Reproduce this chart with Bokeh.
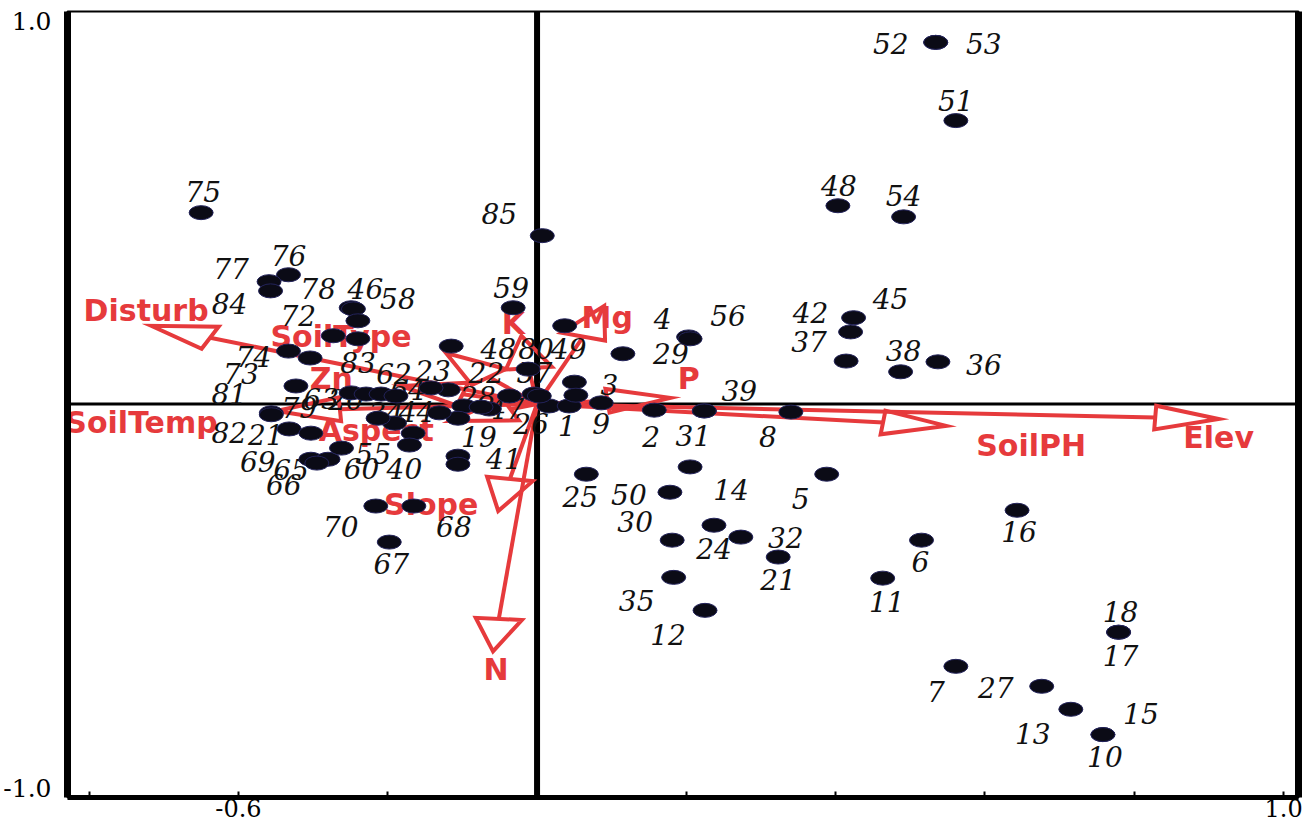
import math
from bokeh.plotting import figure
from bokeh.models import (ColumnDataSource, Span, FixedTicker, LinearAxis,
                          PrintfTickFormatter, Range1d)
from bokeh.core.properties import value
from bokeh.embed import file_html
from bokeh.resources import INLINE

# ---------------- data: site scores (axis 1, axis 2) ----------------
site_labels = ["52", "53", "51", "48", "54", "85", "42", "45", "37", "38", "36",
               "4", "56", "29", "39", "31", "2", "8", "5", "14", "50", "25",
               "30", "24", "32", "21", "35", "12", "11", "6", "16", "18", "17",
               "7", "27", "13", "15", "10",
               "59", "49", "48", "80", "22", "57", "3", "28", "47", "19", "26",
               "1", "9", "41", "", "", "", "", "", "",
               "23", "55", "40", "44", "34", "63", "20", "62", "64",
               "83", "74", "73", "81", "82", "79", "21", "69", "65", "66", "60",
               "70", "68", "67", "75", "76", "77", "84", "78", "46", "58", "72", ""]
site_x = [0.534, 0.534, 0.561, 0.403, 0.491, 0.007, 0.424, 0.420, 0.414, 0.487, 0.537,
          0.203, 0.205, 0.115, 0.224, 0.224, 0.157, 0.340, 0.388, 0.205, 0.178, 0.066,
          0.181, 0.237, 0.273, 0.323, 0.183, 0.225, 0.463, 0.515, 0.643, 0.779, 0.779,
          0.561, 0.676, 0.715, 0.758, 0.758,
          -0.032, 0.037, -0.115, -0.012, -0.119, -0.037, 0.050, -0.098, -0.064, -0.106, -0.004,
          0.016, 0.086, -0.106, -0.106, -0.075, 0.003, 0.043, 0.052, -0.131,
          -0.142, -0.166, -0.171, -0.191, -0.213, -0.249, -0.229, -0.209, -0.189,
          -0.304, -0.333, -0.323, -0.356, -0.356, -0.332, -0.303, -0.303, -0.280, -0.295, -0.262,
          -0.216, -0.165, -0.198, -0.450, -0.333, -0.359, -0.357, -0.249, -0.246, -0.240, -0.273, -0.240]
site_y = [0.943, 0.943, 0.739, 0.517, 0.488, 0.439, 0.225, 0.188, 0.112, 0.084, 0.110,
          0.175, 0.170, 0.131, -0.018, -0.018, -0.016, -0.021, -0.183, -0.164, -0.230, -0.183,
          -0.355, -0.316, -0.347, -0.399, -0.452, -0.538, -0.454, -0.355, -0.277, -0.595, -0.595,
          -0.684, -0.736, -0.796, -0.862, -0.862,
          0.251, 0.204, 0.151, 0.091, 0.037, 0.021, 0.057, -0.005, -0.013, -0.037, 0.026,
          -0.005, 0.003, -0.136, -0.157, -0.008, 0.021, -0.005, 0.023, -0.023,
          0.042, -0.076, -0.107, -0.050, -0.037, 0.029, 0.026, 0.026, 0.021,
          0.120, 0.138, 0.047, -0.023, -0.028, -0.065, -0.076, -0.144, -0.144, -0.154, -0.115,
          -0.266, -0.266, -0.360, 0.499, 0.337, 0.319, 0.295, 0.251, 0.248, 0.217, 0.178, 0.170]

# label placement (screen pixels, relative to each site)
label_dx = [-45, 48, 0, 1, 0, -43, -43, 40, -37, 3, 46,
            -26, 38, 48, 35, -11, -3, -23, -26, 41, -41, -6,
            -37, 0, 45, 0, -37, -37, 4, -1, 2, 2, 2,
            -20, -46, -38, 38, 2,
            -2, 4, 47, 8, 38, 25, 35, 14, 17, 21, -3,
            18, 0, 46, 0, 0, 0, 0, 0, 0,
            2, -40, -5, 22, 8, -30, -20, 13, 12,
            48, -35, -55, -42, -42, 10, -45, -53, -37, -33, 20,
            -35, 40, 2, 2, 0, -38, -41, -33, 12, 40, -35, 0]
label_dy = [1, 1, -20, -20, -21, -22, -5, -33, -20, -21, 3,
            -18, -23, 0, -20, 25, 26, 24, 24, 23, 2, 22,
            -19, 23, 0, 22, 23, 24, 23, 21, 21, -21, 23,
            25, 1, 24, -21, 22,
            -20, 23, 2, -21, -17, -23, 2, -9, -1, 18, 29,
            20, 21, 2, 0, 0, 0, 0, 0, 0,
            -17, 20, 23, -12, -6, 6, 5, -21, -6,
            5, 5, -12, -19, 18, -21, 1, 2, 10, 21, 20,
            20, 20, 21, -21, -19, -13, 13, -19, -20, -22, -20, 0]

# ---------------- data: environmental variable biplot scores ----------------
env_names = ["Elev", "SoilPH", "Disturb", "SoilType", "Zn", "SoilTemp",
             "Aspect", "Slope", "N", "K", "Mg", "P"]
env_x = [0.913, 0.548, -0.517, -0.122, -0.182, -0.349, -0.115, -0.052, -0.059, -0.021, 0.090, 0.179]
env_y = [-0.039, -0.057, 0.204, 0.133, 0.047, -0.018, -0.044, -0.279, -0.645, 0.178, 0.256, 0.016]
env_label_dx = [0, 85, -5, -105, -70, -135, -75, -67, 3, -8, 3, 18]
env_label_dy = [19, 20, -15, -17, -7, 12, 10, -7, 18, -12, 12, -19]

# ---------------- axis ticks ----------------
x_tick_values = [-0.6, -0.4, -0.2, 0.0, 0.2, 0.4, 0.6, 0.8, 1.0]
x_tick_labels = ["", "-0.6", "", "", "", "", "", "", "1.0"]
y_tick_values = [-1.0, 1.0]

RED = "#e63a3c"

p = figure(width=1305, height=824,
           x_range=Range1d(-0.629, 1.020), y_range=Range1d(-1.026, 1.0235),
           output_backend="svg", toolbar_location=None,
           min_border_left=66, min_border_right=7, min_border_top=11, min_border_bottom=27)
p.grid.visible = False
p.outline_line_color = "black"
p.outline_line_width = 2
p.background_fill_color = "white"
p.border_fill_color = "white"

# bottom axis
xa = p.xaxis[0]
xa.ticker = FixedTicker(ticks=x_tick_values)
xa.major_label_overrides = dict(zip(x_tick_values, x_tick_labels))
xa.axis_line_width = 5
xa.major_tick_in = 6
xa.major_tick_out = 0
xa.major_tick_line_width = 2
xa.minor_tick_line_color = None
xa.major_label_text_font = "DejaVu Serif"
xa.major_label_text_font_size = "24px"
xa.major_label_text_color = "black"
xa.major_label_standoff = 1

# left axis
ya = p.yaxis[0]
ya.ticker = FixedTicker(ticks=y_tick_values)
ya.formatter = PrintfTickFormatter(format="%.1f")
ya.axis_line_width = 7
ya.major_tick_line_color = None
ya.minor_tick_line_color = None
ya.major_label_text_font = "DejaVu Serif"
ya.major_label_text_font_size = "25px"
ya.major_label_text_color = "black"
ya.major_label_standoff = 10

# right frame edge as an axis without ticks
ra = LinearAxis(ticker=FixedTicker(ticks=[]), axis_line_width=7,
                major_tick_line_color=None, minor_tick_line_color=None,
                major_label_text_font_size="0px", major_label_standoff=0,
                major_tick_out=0, minor_tick_out=0)
p.add_layout(ra, "right")

# zero lines
p.add_layout(Span(location=0, dimension="height", line_color="black", line_width=6, level="underlay"))
p.add_layout(Span(location=0, dimension="width", line_color="black", line_width=3, level="underlay"))

# environmental arrows (open triangular heads)
HEAD_L = 0.085
HEAD_W = 0.031
shaft_x, shaft_y, head_xs, head_ys = [], [], [], []
for ex, ey in zip(env_x, env_y):
    r = math.hypot(ex, ey)
    ux, uy = ex / r, ey / r
    bx, by = ex - HEAD_L * ux, ey - HEAD_L * uy
    nx, ny = -uy, ux
    shaft_x.append([0.0, bx])
    shaft_y.append([0.0, by])
    head_xs.append([ex, bx + HEAD_W * nx, bx - HEAD_W * nx])
    head_ys.append([ey, by + HEAD_W * ny, by - HEAD_W * ny])

p.multi_line(xs=shaft_x, ys=shaft_y, line_color=RED, line_width=4)
p.patches(xs=head_xs, ys=head_ys, fill_alpha=0, line_color=RED, line_width=4,
          line_join="miter")

env_src = ColumnDataSource(dict(x=env_x, y=env_y, t=env_names,
                                dx=env_label_dx, dy=env_label_dy))
p.text(x="x", y="y", text="t", x_offset="dx", y_offset="dy", source=env_src,
       text_color=RED, text_font=value("DejaVu Sans"), text_font_style="bold",
       text_font_size="30px", text_align="center", text_baseline="middle")

# site labels and points
site_src = ColumnDataSource(dict(x=site_x, y=site_y, t=site_labels,
                                 dx=label_dx, dy=label_dy))
p.text(x="x", y="y", text="t", x_offset="dx", y_offset="dy", source=site_src,
       text_color="#111111", text_font=value("DejaVu Serif"), text_font_style="italic",
       text_font_size="28px", text_align="center", text_baseline="middle")
p.ellipse(x="x", y="y", width=24, height=14, width_units="screen", height_units="screen",
          source=site_src, fill_color="#0b0b16", line_color="#23235a", line_width=1)

open("out.html", "w").write(file_html(p, INLINE))
